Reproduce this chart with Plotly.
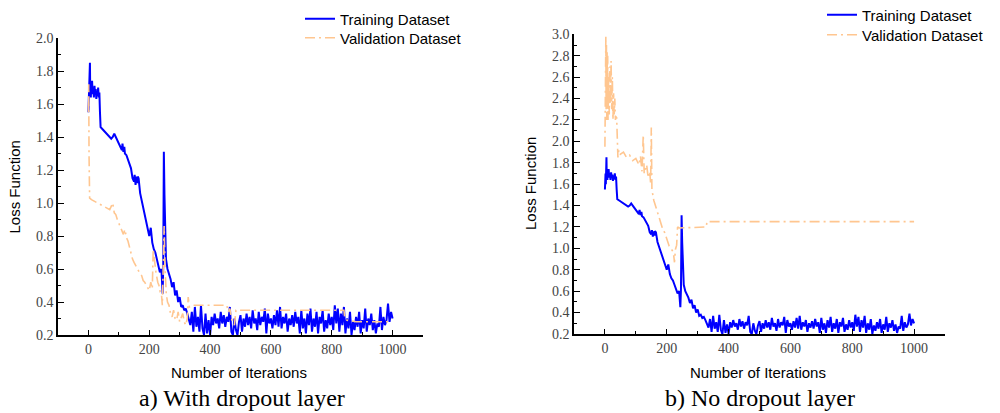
import plotly.graph_objects as go

# ---------------- data ----------------
train_iter = [0, 1, 2, 3, 4, 5, 6, 7, 8, 9, 10, 12, 14, 16, 18, 20, 22, 24, 26, 28, 30, 32, 34, 36, 38, 40,
              45, 50, 55, 60, 65, 70, 75, 80, 85, 90, 95, 100, 105, 110, 112, 115, 118, 120, 125, 130, 135,
              140, 145, 150, 152, 155, 157, 160, 162, 165, 170, 175, 180, 185, 190, 195, 200, 205, 210, 215,
              220, 225, 230, 235, 240,
              244, 246, 248, 250, 252, 255, 260, 265, 270, 275, 280, 285, 290, 295, 300, 305, 310, 315, 320,
              325, 330,
              335, 340, 345, 350, 355, 360, 365, 370, 375, 380, 385, 390, 395, 400, 405, 410, 415, 420, 425,
              430, 435, 440, 445, 450, 455, 460, 465, 470, 475, 480, 485, 490, 495, 500, 505, 510, 515, 520,
              525, 530, 535, 540, 545, 550, 555, 560, 565, 570, 575, 580, 585, 590, 595, 600, 605, 610, 615,
              620, 625, 630, 635, 640, 645, 650, 655, 660, 665, 670, 675, 680, 685, 690, 695, 700, 705, 710,
              715, 720, 725, 730, 735, 740, 745, 750, 755, 760, 765, 770, 775, 780, 785, 790, 795, 800, 805,
              810, 815, 820, 825, 830, 835, 840, 845, 850, 855, 860, 865, 870, 875, 880, 885, 890, 895, 900,
              905, 910, 915, 920, 925, 930, 935, 940, 945, 950, 955, 960, 965, 970, 975, 980, 985, 990, 995,
              1000]
train_loss = [1.55, 1.62, 1.70, 1.60, 1.78, 1.85, 1.66, 1.72, 1.64, 1.70, 1.67, 1.74, 1.66, 1.70, 1.64, 1.71,
              1.66, 1.69, 1.63, 1.68, 1.65, 1.70, 1.64, 1.67, 1.55, 1.46,
              1.45, 1.44, 1.43, 1.42, 1.41, 1.40, 1.39, 1.40, 1.42, 1.40, 1.38, 1.36, 1.35, 1.32, 1.36, 1.31,
              1.34, 1.30, 1.29, 1.26, 1.23, 1.21, 1.15, 1.13, 1.17, 1.11, 1.16, 1.12, 1.16, 1.15, 1.06, 1.02,
              0.96, 0.93, 0.88, 0.84, 0.80, 0.85, 0.76, 0.72, 0.70, 0.66, 0.62, 0.58, 0.60,
              0.45, 0.62, 1.31, 1.05, 0.85, 0.66, 0.60, 0.57, 0.54, 0.49, 0.52, 0.44, 0.47, 0.40, 0.43, 0.37,
              0.38, 0.35, 0.36, 0.33, 0.30,
              0.26, 0.34, 0.22, 0.37, 0.25, 0.31, 0.22, 0.38, 0.24, 0.20, 0.33, 0.21, 0.29, 0.20, 0.31, 0.26,
              0.33, 0.27, 0.30, 0.24, 0.34, 0.27, 0.32, 0.25, 0.31, 0.28, 0.37, 0.22, 0.20, 0.30, 0.23, 0.20,
              0.28, 0.32, 0.22, 0.30, 0.25, 0.33, 0.26, 0.31, 0.24, 0.35, 0.27, 0.30, 0.23, 0.34, 0.26, 0.31,
              0.28, 0.36, 0.21, 0.33, 0.27, 0.30, 0.24, 0.32, 0.26, 0.35, 0.25, 0.37, 0.24, 0.31, 0.27, 0.33,
              0.22, 0.30, 0.26, 0.32, 0.25, 0.34, 0.27, 0.31, 0.21, 0.35, 0.24, 0.30, 0.21, 0.33, 0.26, 0.36,
              0.22, 0.30, 0.25, 0.34, 0.21, 0.31, 0.27, 0.35, 0.22, 0.29, 0.24, 0.33, 0.26, 0.31, 0.23, 0.38,
              0.27, 0.36, 0.22, 0.33, 0.26, 0.37, 0.21, 0.30, 0.24, 0.34, 0.20, 0.28, 0.23, 0.31, 0.25, 0.34,
              0.21, 0.29, 0.24, 0.36, 0.22, 0.30, 0.26, 0.33, 0.23, 0.29, 0.21, 0.27, 0.25, 0.37, 0.23, 0.31,
              0.26, 0.29, 0.39, 0.28, 0.34, 0.30]

val_a_iter = [0, 1, 2, 3, 4, 10, 20, 30, 40, 50, 60, 70, 75, 80, 85, 90, 95, 100, 105, 110, 115, 120, 125,
              130, 135, 140, 145, 150, 155, 160, 165, 170, 175, 180, 185, 190, 195, 200, 205, 210, 213, 218,
              222, 228, 232, 236, 240, 243, 246, 249, 252, 256, 260, 265, 270, 275, 280, 285, 290, 295, 300,
              305, 310, 315, 320, 325, 328, 332, 340, 455, 460, 465, 470, 480, 485, 490, 840, 843, 850, 880,
              985]
val_a_loss = [1.55, 1.72, 1.30, 1.05, 1.03, 1.02, 1.01, 1.00, 0.99, 0.98, 0.97, 0.96, 0.98, 1.00, 0.94, 0.93,
              0.90, 0.88, 0.86, 0.83, 0.81, 0.84, 0.79, 0.77, 0.73, 0.70, 0.66, 0.64, 0.62, 0.60, 0.59, 0.57,
              0.56, 0.53, 0.52, 0.50, 0.49, 0.47, 0.52, 0.48, 0.72, 0.62, 0.58, 0.52, 0.50, 0.46, 0.45, 0.38,
              0.55, 0.86, 0.60, 0.45, 0.40, 0.38, 0.33, 0.31, 0.35, 0.30, 0.29, 0.34, 0.28, 0.30, 0.33, 0.28,
              0.26, 0.30, 0.43, 0.37, 0.38, 0.38, 0.34, 0.36, 0.30, 0.26, 0.35, 0.35, 0.35, 0.30, 0.29, 0.28,
              0.28]

val_b_iter = [0, 1, 2, 3, 4, 5, 6, 7, 8, 9, 10, 12, 14, 16, 18, 20, 22, 24, 26, 28, 30, 32, 34, 36, 38, 40,
              42, 45, 50, 60, 70, 80, 90, 100, 110, 115, 120, 124, 127, 135, 140, 145, 148, 150, 152, 158,
              163, 168, 173, 178, 183, 188, 193, 198, 203, 208, 213, 218, 222, 225, 228, 232, 235, 240, 328,
              330, 1000]
val_b_loss = [1.95, 2.95, 2.00, 2.98, 2.30, 2.90, 2.20, 2.85, 2.40, 2.80, 2.20, 2.60, 2.25, 2.70, 2.35, 2.75,
              2.30, 2.60, 2.20, 2.45, 2.25, 2.40, 2.20, 2.23, 2.22, 2.10, 1.85, 1.92, 1.88, 1.90, 1.85, 1.87,
              1.82, 1.84, 1.78, 1.86, 1.72, 2.06, 1.70, 1.78, 1.66, 1.72, 1.60, 2.13, 1.55, 1.45, 1.40, 1.35,
              1.30, 1.27, 1.22, 1.17, 1.15, 1.10, 1.05, 1.02, 1.00, 0.98, 0.95, 0.87, 0.99, 1.03, 1.20, 1.19,
              1.20, 1.25, 1.25]

y_ticks_a = [0.2, 0.4, 0.6, 0.8, 1.0, 1.2, 1.4, 1.6, 1.8, 2.0]
y_ticks_b = [0.2, 0.4, 0.6, 0.8, 1.0, 1.2, 1.4, 1.6, 1.8, 2.0, 2.2, 2.4, 2.6, 2.8, 3.0]
x_ticks = [0, 200, 400, 600, 800, 1000]

BLUE = "#0000FF"
ORANGE = "#FFC690"
DASH = "10px,4px,2px,4px"

fig = go.Figure()

fig.add_trace(go.Scatter(x=train_iter, y=train_loss, mode="lines", name="Training Dataset",
                         line=dict(color=BLUE, width=2), xaxis="x", yaxis="y", legend="legend"))
fig.add_trace(go.Scatter(x=val_a_iter, y=val_a_loss, mode="lines", name="Validation Dataset",
                         line=dict(color=ORANGE, width=1.6, dash=DASH), xaxis="x", yaxis="y",
                         legend="legend2"))
fig.add_trace(go.Scatter(x=train_iter, y=train_loss, mode="lines", name="Training Dataset",
                         line=dict(color=BLUE, width=2), xaxis="x2", yaxis="y2", legend="legend3"))
fig.add_trace(go.Scatter(x=val_b_iter, y=val_b_loss, mode="lines", name="Validation Dataset",
                         line=dict(color=ORANGE, width=1.6, dash=DASH), xaxis="x2", yaxis="y2",
                         legend="legend4"))

H = 413.0
tickfont = dict(family="Liberation Serif", size=14, color="#444444")

def xaxis(domain, anchor):
    return dict(domain=domain, anchor=anchor, range=[-100, 1100], showgrid=False, zeroline=False,
                showline=True, linecolor="black", linewidth=1.5, ticks="inside", ticklen=5,
                tickcolor="black", tickwidth=1.2, tickvals=x_ticks, ticktext=[str(v) for v in x_ticks],
                tickfont=tickfont, automargin=False,
                minor=dict(ticks="inside", ticklen=3, dtick=100, tick0=0, tickcolor="black", tickwidth=1.2))

def yaxis(domain, anchor, rng, vals):
    return dict(domain=domain, anchor=anchor, range=rng, showgrid=False, zeroline=False,
                showline=True, linecolor="black", linewidth=1.5, ticks="inside", ticklen=6,
                tickcolor="black", tickwidth=1.2, tickvals=vals, ticktext=["%.1f" % v for v in vals],
                tickfont=tickfont, automargin=False,
                minor=dict(ticks="inside", ticklen=3, dtick=0.1, tick0=0.2, tickcolor="black",
                           tickwidth=1.2))

legfont = dict(family="Liberation Sans", size=15, color="black")

def leg(x, top_px):
    return dict(x=x, y=1 - top_px / H, xanchor="left", yanchor="top", bgcolor="rgba(0,0,0,0)",
                font=legfont, tracegroupgap=0, itemwidth=30)

fig.update_layout(
    width=1000, height=413,
    margin=dict(l=0, r=0, t=0, b=0, autoexpand=False),
    paper_bgcolor="white", plot_bgcolor="white",
    xaxis=xaxis([0.058, 0.423], "y"),
    yaxis=yaxis([(H - 335) / H, (H - 38) / H], "x", [0.2, 2.0], y_ticks_a),
    xaxis2=xaxis([0.574, 0.945], "y2"),
    yaxis2=yaxis([(H - 334) / H, (H - 34.3) / H], "x2", [0.2, 3.0], y_ticks_b),
    legend=leg(0.300, 2.5),
    legend2=leg(0.300, 21.5),
    legend3=leg(0.822, -1.5),
    legend4=leg(0.822, 18.5),
    showlegend=True,
)

annots = [
    dict(text="Loss Function", x=13.5 / 1000, y=1 - 187 / H, textangle=-90),
    dict(text="Loss Function", x=530 / 1000, y=1 - 184 / H, textangle=-90),
    dict(text="Number of Iterations", x=239 / 1000, y=1 - 372 / H),
    dict(text="Number of Iterations", x=758 / 1000, y=1 - 372 / H),
]
for a in annots:
    fig.add_annotation(xref="paper", yref="paper", showarrow=False, xanchor="center", yanchor="middle",
                       font=dict(family="Liberation Sans", size=15, color="black"), **a)

for txt, xc in [("a) With dropout layer", 241.5), ("b) No dropout layer", 760)]:
    fig.add_annotation(text=txt, xref="paper", yref="paper", x=xc / 1000, y=1 - 398 / H,
                       showarrow=False, xanchor="center", yanchor="middle",
                       font=dict(family="Liberation Serif", size=24, color="black"))

fig.write_html("out.html")
